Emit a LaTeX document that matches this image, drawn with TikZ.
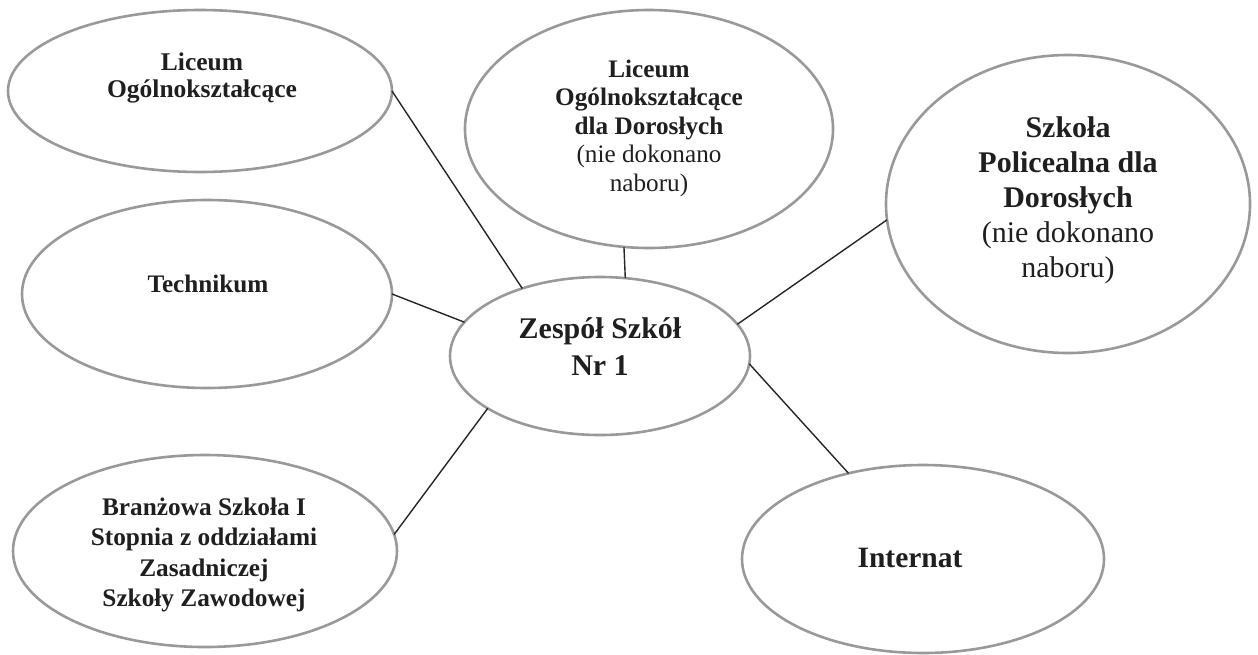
\documentclass[tikz,border=0pt]{standalone}
\usepackage{fontspec}
\setmainfont{Liberation Serif}
\usetikzlibrary{shapes.geometric}
\tikzset{
  oval/.style={ellipse, draw=black!40, line width=2.6pt, inner sep=0pt, outer sep=0pt},
  lbl/.style={align=center, text=black!88, inner sep=0pt},
  link/.style={draw=black!85, line width=1.4pt}
}
\newcommand{\fs}[2]{\fontsize{#1}{#2}\selectfont}
\begin{document}
\begin{tikzpicture}[x=1pt,y=-1pt]
\useasboundingbox (0,0) rectangle (1258,654);
% ellipses
\node[oval, minimum width=384pt, minimum height=162pt] (lo) at (200,91) {};
\node[oval, minimum width=368pt, minimum height=238pt] (lod) at (649,129) {};
\node[oval, minimum width=364pt, minimum height=298pt] (sp) at (1068,204) {};
\node[oval, minimum width=370pt, minimum height=188pt] (tech) at (207,294) {};
\node[oval, minimum width=300pt, minimum height=158pt] (zs) at (600,356) {};
\node[oval, minimum width=384pt, minimum height=192pt] (bs) at (205,551) {};
\node[oval, minimum width=362pt, minimum height=188pt] (int) at (923,559) {};
% labels
\node[lbl, font=\bfseries\fs{25.5}{27.5}] (tlo) at (202,78) {Liceum\\Ogólnokształcące};
\node[lbl, font=\fs{25.2}{28.5}] (tlod) at (649,128) {\textbf{Liceum}\\\textbf{Ogólnokształcące}\\\textbf{dla Dorosłych}\\(nie dokonano\\naboru)};
\node[lbl, font=\fs{30}{35}] (tsp) at (1068,200) {\textbf{Szkoła}\\\textbf{Policealna dla}\\\textbf{Dorosłych}\\(nie dokonano\\naboru)};
\node[lbl, font=\bfseries\fs{25.2}{28}] (ttech) at (208,284) {Technikum};
\node[lbl, font=\bfseries\fs{30}{37}] (tzs) at (600,347) {Zespół Szkół\\Nr 1};
\node[lbl, font=\bfseries\fs{25.3}{30.5}] (tbs) at (204,555) {Branżowa Szkoła I\\Stopnia z oddziałami\\Zasadniczej\\Szkoły Zawodowej};
\node[lbl, font=\bfseries\fs{29.5}{34}] (tint) at (910,558) {Internat};
% connectors
\draw[link] (lo.0) -- (zs.139);
\draw[link] (lod.258.6) -- (zs.72.4);
\draw[link] (sp.185) -- (zs.13);
\draw[link] (tech.0) -- (zs.166);
\draw[link] (bs.5) -- (zs.205.7);
\draw[link] (zs.357.7) -- (int.131);
\end{tikzpicture}
\end{document}
